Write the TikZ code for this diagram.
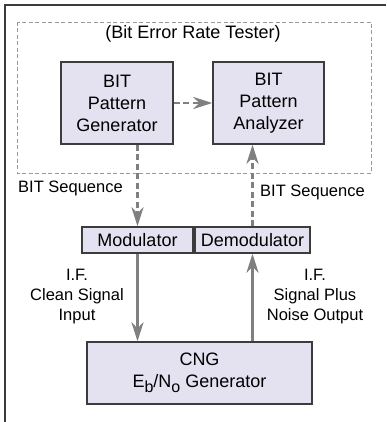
\documentclass[tikz,border=0pt]{standalone}
\usepackage{fontspec}
\setmainfont{Liberation Sans}
\usetikzlibrary{arrows.meta}

\definecolor{boxfill}{RGB}{228,226,240}
\definecolor{boxline}{RGB}{60,60,60}
\definecolor{arrowgray}{RGB}{128,128,128}

\newcommand{\lowsub}[1]{\raisebox{-0.3em}{\fontsize{16}{16}\selectfont #1}}

\tikzset{
	unit/.style={draw=boxline, line width=1.4pt, fill=boxfill, align=center,
		font=\fontsize{18}{22}\selectfont, inner sep=0pt},
	lbl/.style={align=center, font=\fontsize{16.5}{20}\selectfont, inner sep=0pt},
	sig/.style={draw=arrowgray, line width=2.6pt,
		-{Stealth[length=19pt,width=12pt,inset=6pt]}},
	bitsig/.style={sig, dash pattern=on 6pt off 3.5pt},
}

\begin{document}
\begin{tikzpicture}[x=1pt, y=-1pt]
\useasboundingbox (0,0) rectangle (386,422);
\draw[boxline, line width=1.4pt] (5,422) -- (5,5) -- (386,5);
\draw[arrowgray!80, line width=0.9pt, dash pattern=on 4pt off 2.5pt] (17,22) rectangle (371,173);
\node[lbl, font=\fontsize{18}{22}\selectfont] (ber) at (193,34) {(Bit Error Rate Tester)};
\node[unit, minimum width=112pt, minimum height=82pt] (gen) at (117,103) {BIT\\Pattern\\Generator};
\node[unit, minimum width=111pt, minimum height=82pt] (ana) at (268.5,103) {BIT\\Pattern\\Analyzer};
\node[unit, minimum width=111pt, minimum height=26pt] (mod) at (137.5,240) {Modulator};
\node[unit, minimum width=115pt, minimum height=26pt] (demod) at (252.5,240) {Demodulator};
\node[unit, minimum width=225pt, minimum height=62pt] (cng) at (199.5,373)
	{CNG\\E\lowsub{b}/N\lowsub{o} Generator};
\node[lbl, anchor=west] (seqa) at (18,188) {BIT Sequence};
\node[lbl, anchor=west] (seqb) at (260,192) {BIT Sequence};
\node[lbl] (ifa) at (77,297) {I.F.\\Clean Signal\\Input};
\node[lbl] (ifb) at (315,297) {I.F.\\Signal Plus\\Noise Output};
\path (gen.east) edge[bitsig] (ana.west);
\path (gen.south -| mod.north) edge[bitsig] (mod.north);
\path (demod.north) edge[bitsig] (demod.north |- ana.south);
\path (mod.south) edge[sig] (mod.south |- cng.north);
\path (demod.south |- cng.north) edge[sig] (demod.south);
\end{tikzpicture}
\end{document}
